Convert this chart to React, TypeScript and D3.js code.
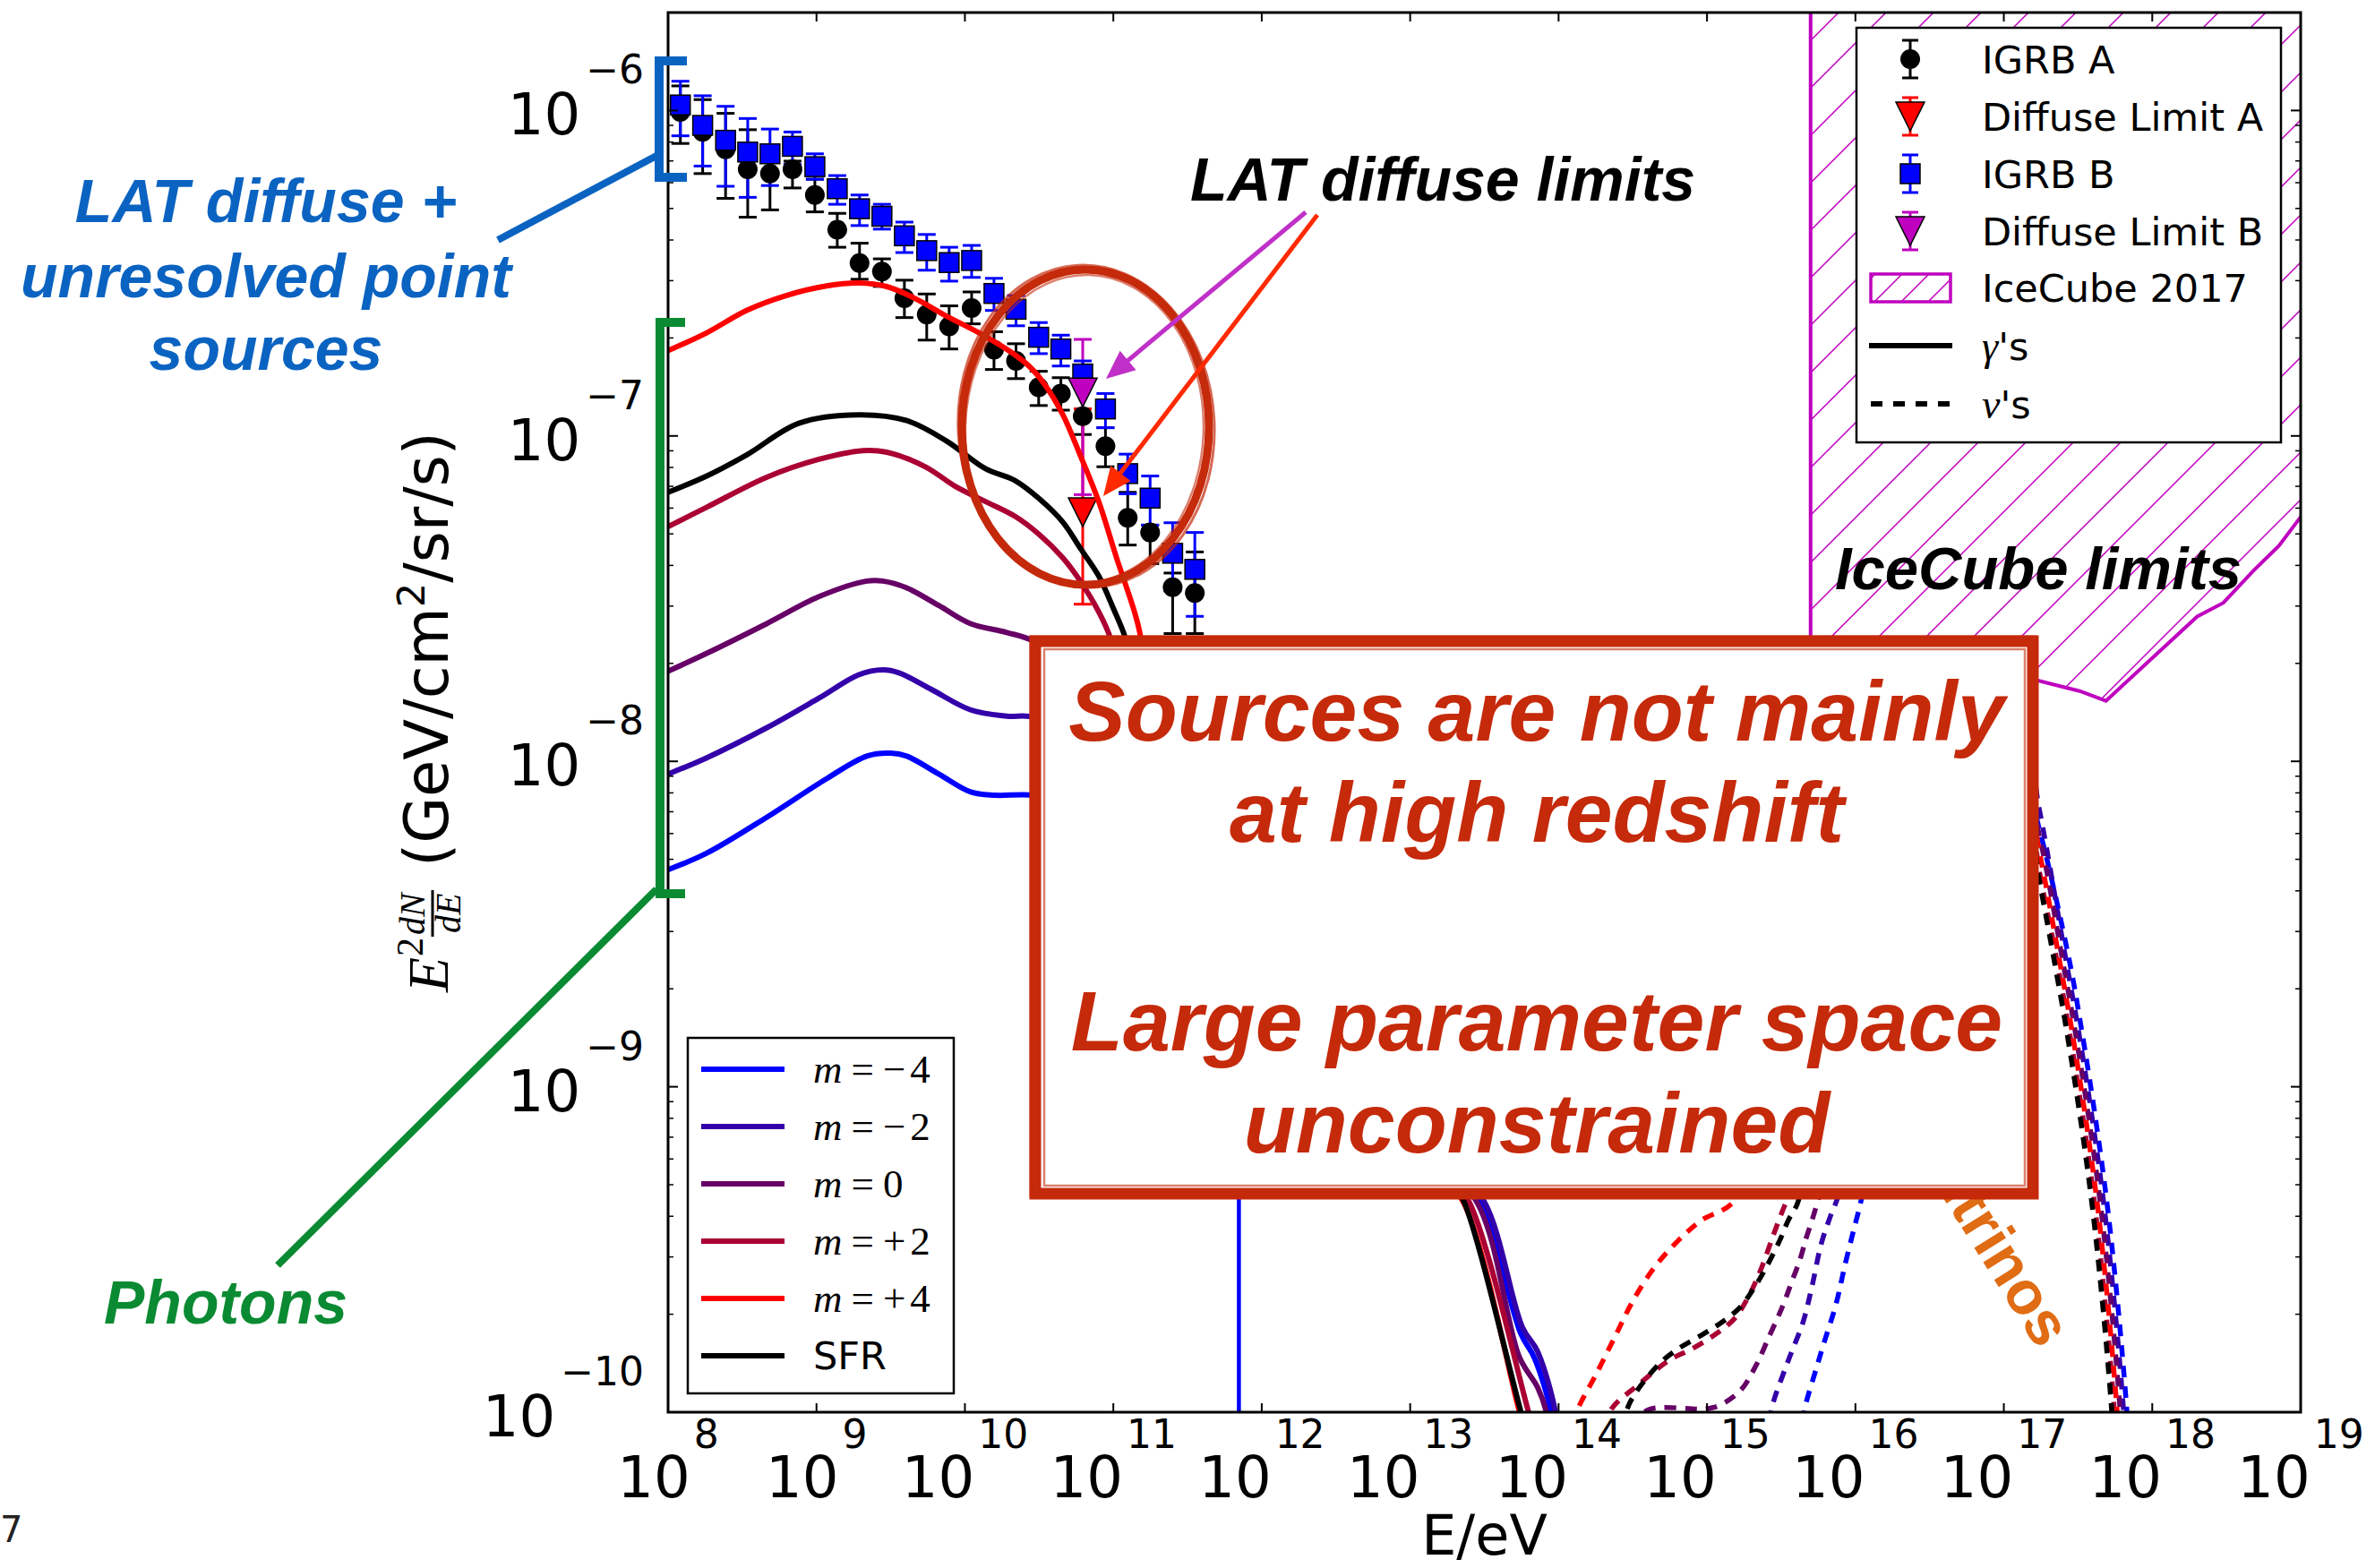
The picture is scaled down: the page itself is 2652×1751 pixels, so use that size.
import React from "react";
import * as d3 from "d3";

const W = 2652, H = 1751;
const PL = 746, PR = 2569, PT = 14, PB = 1577;

// ---------- axis ticks ----------
const xExps = [8, 9, 10, 11, 12, 13, 14, 15, 16, 17, 18, 19];
const yExps = [-6, -7, -8, -9, -10];

// ---------- Fermi-LAT data ----------
const energies = [1.21e8, 1.71e8, 2.44e8, 3.44e8, 4.86e8, 6.89e8, 9.75e8, 1.38e9, 1.95e9, 2.76e9, 3.91e9, 5.53e9, 7.83e9, 1.11e10, 1.57e10, 2.21e10, 3.14e10, 4.43e10, 6.22e10, 8.85e10, 1.25e11, 1.77e11, 2.51e11, 3.54e11];
const igrbA = [9.9e-7, 8.6e-7, 7.6e-7, 6.6e-7, 6.4e-7, 6.6e-7, 5.5e-7, 4.3e-7, 3.4e-7, 3.2e-7, 2.65e-7, 2.36e-7, 2.17e-7, 2.47e-7, 1.84e-7, 1.7e-7, 1.41e-7, 1.35e-7, 1.15e-7, 9.3e-8, 5.6e-8, 5.05e-8, 3.43e-8, 3.29e-8];
const igrbAHi = [1.19e-6, 1.08e-6, 9.8e-7, 8.73e-7, 7.08e-7, 6.99e-7, 6.15e-7, 4.83e-7, 3.91e-7, 3.5e-7, 3.01e-7, 2.73e-7, 2.51e-7, 2.77e-7, 2.09e-7, 1.92e-7, 1.58e-7, 1.51e-7, 1.21e-7, 1.06e-7, 6.71e-8, 5.32e-8, 3.79e-8, 4.4e-8];
const igrbALo = [7.92e-7, 6.4e-7, 5.37e-7, 4.7e-7, 4.95e-7, 5.78e-7, 4.88e-7, 3.8e-7, 3.03e-7, 2.88e-7, 2.31e-7, 1.97e-7, 1.85e-7, 2.21e-7, 1.6e-7, 1.5e-7, 1.24e-7, 1.2e-7, 1.01e-7, 8.04e-8, 4.62e-8, 4.05e-8, 2.47e-8, 2.47e-8];
const igrbB = [1.04e-6, 9.0e-7, 8.1e-7, 7.45e-7, 7.36e-7, 7.76e-7, 6.72e-7, 5.75e-7, 4.99e-7, 4.73e-7, 4.12e-7, 3.71e-7, 3.41e-7, 3.46e-7, 2.74e-7, 2.45e-7, 2.01e-7, 1.85e-7, 1.55e-7, 1.21e-7, 7.66e-8, 6.44e-8, 4.36e-8, 3.89e-8];
const igrbBHi = [1.23e-6, 1.11e-6, 1.03e-6, 9.45e-7, 8.77e-7, 8.59e-7, 7.36e-7, 6.31e-7, 5.5e-7, 5.15e-7, 4.54e-7, 4.16e-7, 3.8e-7, 3.85e-7, 3.05e-7, 2.7e-7, 2.23e-7, 2.04e-7, 1.7e-7, 1.35e-7, 8.79e-8, 7.53e-8, 5.41e-8, 5.05e-8];
const igrbBLo = [8.36e-7, 6.75e-7, 5.85e-7, 5.41e-7, 5.88e-7, 6.84e-7, 6.15e-7, 5.15e-7, 4.43e-7, 4.32e-7, 3.66e-7, 3.23e-7, 2.99e-7, 3.07e-7, 2.43e-7, 2.18e-7, 1.79e-7, 1.64e-7, 1.39e-7, 1.06e-7, 6.64e-8, 5.32e-8, 3.34e-8, 2.79e-8];
const limitE = [6.22e10];
const limitA = [5.83e-8];
const limitAHi = [1.21e-7];
const limitALo = [3.04e-8];
const limitB = [1.36e-7];
const limitBHi = [1.98e-7];
const limitBLo = [6.6e-8];

// ---------- model curves: [log10 E/eV, log10 flux] ----------
const gamM4: [number, number][] = [[8.0, -8.333], [8.261, -8.282], [8.664, -8.172], [9.069, -8.053], [9.339, -7.984], [9.5, -7.975], [9.608, -7.984], [9.824, -8.039], [10.039, -8.094], [10.201, -8.104], [10.471, -8.104], [11.0, -8.15], [11.6, -8.4], [12.4, -8.8], [13.0, -9.1], [13.3, -9.25], [13.466, -9.337], [13.745, -9.758], [13.836, -9.832], [13.949, -10.0], [13.97, -10.1]];
const gamM4Dropout: [number, number][] = [[11.846, -8.6], [11.846, -10.5]];
const gamM2: [number, number][] = [[8.0, -8.039], [8.261, -7.989], [8.664, -7.897], [9.016, -7.806], [9.285, -7.734], [9.447, -7.719], [9.555, -7.728], [9.77, -7.778], [10.039, -7.842], [10.282, -7.861], [10.471, -7.865], [11.0, -8.0], [11.8, -8.5], [12.6, -9.0], [13.2, -9.25], [13.476, -9.337], [13.757, -9.74], [13.858, -9.813], [13.979, -10.0], [14.0, -10.1]];
const gamM0: [number, number][] = [[8.0, -7.723], [8.261, -7.668], [8.664, -7.577], [9.016, -7.494], [9.339, -7.446], [9.447, -7.446], [9.608, -7.467], [9.824, -7.521], [10.039, -7.577], [10.282, -7.604], [10.471, -7.632], [10.8, -7.75], [11.5, -8.3], [12.3, -8.9], [13.0, -9.2], [13.425, -9.337], [13.737, -9.832], [13.858, -9.923], [13.918, -10.0], [13.95, -10.1]];
const gamP2: [number, number][] = [[8.0, -7.279], [8.261, -7.219], [8.664, -7.127], [9.016, -7.072], [9.312, -7.045], [9.474, -7.05], [9.734, -7.095], [9.935, -7.155], [10.136, -7.201], [10.337, -7.247], [10.498, -7.302], [10.66, -7.375], [10.78, -7.448], [10.901, -7.54], [10.981, -7.622], [11.1, -7.85], [11.6, -8.35], [12.2, -8.85], [12.9, -9.15], [13.3, -9.32], [13.375, -9.337], [13.798, -10.0], [13.86, -10.1]];
const gamP4: [number, number][] = [[8.0, -6.738], [8.261, -6.683], [8.531, -6.614], [8.8, -6.568], [9.069, -6.539], [9.285, -6.53], [9.474, -6.541], [9.662, -6.577], [9.877, -6.632], [10.094, -6.683], [10.309, -6.742], [10.438, -6.788], [10.539, -6.843], [10.66, -6.935], [10.78, -7.063], [10.901, -7.201], [11.022, -7.375], [11.142, -7.54], [11.182, -7.613], [11.25, -7.85], [11.5, -8.6], [12.0, -9.0], [12.8, -9.2], [13.2, -9.3], [13.335, -9.337], [13.737, -10.0], [13.8, -10.1]];
const gamSFR: [number, number][] = [[8.0, -7.173], [8.261, -7.123], [8.531, -7.058], [8.881, -6.961], [9.285, -6.935], [9.608, -6.953], [9.877, -7.016], [10.136, -7.1], [10.337, -7.137], [10.498, -7.192], [10.66, -7.265], [10.78, -7.347], [10.901, -7.43], [11.001, -7.531], [11.082, -7.622], [11.2, -7.85], [11.6, -8.3], [12.2, -8.8], [12.9, -9.15], [13.3, -9.32], [13.345, -9.337], [13.747, -10.0], [13.81, -10.1]];

const nuM4: [number, number][] = [[15.64, -10.03], [15.669, -9.969], [15.729, -9.877], [15.789, -9.786], [15.87, -9.667], [15.93, -9.547], [15.99, -9.437], [16.031, -9.364], [16.3, -8.8], [16.8, -8.2], [17.1, -8.0], [17.24, -8.21], [17.44, -8.609], [17.521, -8.817], [17.621, -9.108], [17.702, -9.384], [17.772, -9.69], [17.823, -9.96], [17.837, -10.05]];
const nuM2: [number, number][] = [[15.417, -10.03], [15.447, -9.969], [15.548, -9.841], [15.648, -9.722], [15.708, -9.612], [15.769, -9.484], [15.829, -9.401], [15.88, -9.341], [16.1, -8.9], [16.6, -8.3], [17.0, -7.95], [17.15, -7.97], [17.24, -8.15], [17.418, -8.609], [17.499, -8.817], [17.599, -9.108], [17.68, -9.384], [17.75, -9.69], [17.801, -9.96], [17.815, -10.05]];
const nuM0: [number, number][] = [[14.5, -10.05], [14.602, -9.993], [14.985, -9.99], [15.085, -9.979], [15.226, -9.933], [15.326, -9.86], [15.427, -9.759], [15.508, -9.676], [15.568, -9.603], [15.628, -9.529], [15.668, -9.465], [15.708, -9.41], [15.749, -9.346], [16.0, -8.9], [16.5, -8.4], [16.9, -8.1], [17.1, -8.0], [17.24, -8.23], [17.395, -8.609], [17.476, -8.817], [17.576, -9.108], [17.657, -9.384], [17.727, -9.69], [17.778, -9.96], [17.792, -10.05]];
const nuP2: [number, number][] = [[14.3, -10.05], [14.361, -9.987], [14.542, -9.914], [14.743, -9.841], [14.904, -9.804], [15.065, -9.758], [15.186, -9.712], [15.286, -9.639], [15.367, -9.557], [15.447, -9.456], [15.508, -9.382], [15.548, -9.337], [15.8, -8.95], [16.3, -8.45], [16.8, -8.1], [17.1, -8.0], [17.24, -8.34], [17.356, -8.609], [17.437, -8.817], [17.537, -9.108], [17.618, -9.384], [17.688, -9.69], [17.739, -9.96], [17.753, -10.05]];
const nuP4: [number, number][] = [[14.05, -10.1], [14.12, -10.0], [14.26, -9.877], [14.381, -9.767], [14.502, -9.657], [14.643, -9.557], [14.803, -9.474], [14.964, -9.41], [15.165, -9.36], [15.4, -9.2], [16.0, -8.6], [16.6, -8.1], [17.1, -8.0], [17.24, -8.28], [17.374, -8.609], [17.455, -8.817], [17.555, -9.108], [17.636, -9.384], [17.706, -9.69], [17.757, -9.96], [17.771, -10.05]];
const nuSFR: [number, number][] = [[14.42, -10.05], [14.482, -9.969], [14.583, -9.901], [14.703, -9.841], [14.824, -9.8], [14.964, -9.763], [15.105, -9.722], [15.226, -9.676], [15.326, -9.612], [15.407, -9.548], [15.488, -9.474], [15.548, -9.41], [15.608, -9.36], [15.8, -9.0], [16.3, -8.5], [16.8, -8.15], [17.1, -8.05], [17.24, -8.37], [17.338, -8.609], [17.419, -8.817], [17.519, -9.108], [17.6, -9.384], [17.67, -9.69], [17.721, -9.96], [17.735, -10.05]];

const iceCube: [number, number][] = [[15.698, -5.5], [15.698, -7.9], [16.0, -8.1], [16.6, -8.0], [17.0, -7.85], [17.224, -7.751], [17.511, -7.784], [17.688, -7.814], [18.303, -7.555], [18.479, -7.513], [18.68, -7.415], [18.855, -7.337], [19.005, -7.246], [19.1, -7.2]];

const seriesSign = ["\u2212", "\u2212", "", "+", "+"];
const seriesNum = ["4", "2", "0", "2", "4"];
const seriesColors = ["#0000ff", "#3300aa", "#660066", "#aa0033", "#ff0000", "#000000"];
const gammaSeries = [gamM4, gamM2, gamM0, gamP2, gamP4, gamSFR];
const nuSeries = [nuM4, nuM2, nuM0, nuP2, nuP4, nuSFR];

const SANS = "'DejaVu Sans', sans-serif";
const SERIF = "'Liberation Serif', 'DejaVu Serif', serif";
const BOLD = "'Liberation Sans', Arial, sans-serif";
const BOXRED = "#c52a0b";

function arrowHead(x1: number, y1: number, x2: number, y2: number, len: number, half: number) {
  const dx = x2 - x1, dy = y2 - y1;
  const L = Math.hypot(dx, dy);
  const ux = dx / L, uy = dy / L;
  const bx = x2 - ux * len, by = y2 - uy * len;
  return `M${x2},${y2} L${bx - uy * half},${by + ux * half} L${bx + uy * half},${by - ux * half} Z`;
}

export default function App() {
  const x = d3.scaleLog().domain([1e8, 1e19]).range([PL, PR]);
  const y = d3.scaleLog().domain([1e-10, 2e-6]).range([PB, PT]);
  const smooth = d3.line<[number, number]>().x((d) => x(Math.pow(10, d[0]))).y((d) => y(Math.pow(10, d[1]))).curve(d3.curveCatmullRom.alpha(0.5));
  const straight = d3.line<[number, number]>().x((d) => x(Math.pow(10, d[0]))).y((d) => y(Math.pow(10, d[1])));

  const icePoly = straight([...iceCube, [19.1, -5.5]] as [number, number][]) + "Z";

  const minorY: number[] = [];
  for (let d = -10; d <= -7; d++) for (let k = 2; k <= 9; k++) minorY.push(k * Math.pow(10, d));

  const errBar = (E: number, lo: number, hi: number, color: string, key: string) => {
    const cx = x(E);
    return (
      <g key={key} stroke={color} strokeWidth={3}>
        <line x1={cx} x2={cx} y1={y(lo)} y2={y(hi)} />
        <line x1={cx - 10} x2={cx + 10} y1={y(lo)} y2={y(lo)} />
        <line x1={cx - 10} x2={cx + 10} y1={y(hi)} y2={y(hi)} />
      </g>
    );
  };
  const tri = (cx: number, cy: number, color: string) => (
    <path d={`M${cx - 16},${cy - 16} L${cx + 16},${cy - 16} L${cx},${cy + 16} Z`} fill={color} stroke="#000" strokeWidth={1.5} />
  );

  const legendTR = ["IGRB A", "Diffuse Limit A", "IGRB B", "Diffuse Limit B", "IceCube 2017"];
  const trY = [66, 130, 194, 258, 321, 386, 451];
  const mx = 2133;

  const magArrow = { x1: 1458, y1: 237, x2: 1235, y2: 423 };
  const redArrow = { x1: 1471, y1: 240, x2: 1232, y2: 554 };

  return (
    <svg width={W} height={H} viewBox={`0 0 ${W} ${H}`} style={{ position: "absolute", left: 0, top: 0, background: "#fff" }}>
      <defs>
        <clipPath id="plotClip">
          <rect x={PL} y={PT} width={PR - PL} height={PB - PT} />
        </clipPath>
        <pattern id="hatch" patternUnits="userSpaceOnUse" width={53} height={53}>
          <path d="M0,53 L53,0 M-13,13 L13,-13 M40,66 L66,40" stroke="#bf00bf" strokeWidth={1.5} />
        </pattern>
        <pattern id="hatchS" patternUnits="userSpaceOnUse" width={30} height={30}>
          <path d="M0,30 L30,0 M-8,8 L8,-8 M22,38 L38,22" stroke="#bf00bf" strokeWidth={1.5} />
        </pattern>
      </defs>
      <rect x={0} y={0} width={W} height={H} fill="#fff" />

      <g clipPath="url(#plotClip)">
        {/* IceCube 2017 limit region */}
        <path d={icePoly} fill="url(#hatch)" stroke="none" />
        <path d={straight(iceCube) || ""} fill="none" stroke="#bf00bf" strokeWidth={4} />

        {/* data: error bars */}
        {energies.map((E, i) => errBar(E, igrbALo[i], igrbAHi[i], "#000", "ea" + i))}
        {limitE.map((E, i) => errBar(E, limitALo[i], limitAHi[i], "#ff0000", "la" + i))}
        {limitE.map((E, i) => errBar(E, limitBLo[i], limitBHi[i], "#bf00bf", "lb" + i))}
        {energies.map((E, i) => errBar(E, igrbBLo[i], igrbBHi[i], "#0000ff", "eb" + i))}
        {/* markers */}
        {energies.map((E, i) => (
          <circle key={"ca" + i} cx={x(E)} cy={y(igrbA[i])} r={11} fill="#000" />
        ))}
        {energies.map((E, i) => (
          <rect key={"sb" + i} x={x(E) - 11} y={y(igrbB[i]) - 11} width={22} height={22} fill="#0000ff" stroke="#000" strokeWidth={1.5} />
        ))}
        {limitE.map((E, i) => <g key={"ta" + i}>{tri(x(E), y(limitA[i]), "#ff0000")}</g>)}
        {limitE.map((E, i) => <g key={"tb" + i}>{tri(x(E), y(limitB[i]), "#bf00bf")}</g>)}

        {/* photon curves */}
        <path d={straight(gamM4Dropout) || ""} fill="none" stroke="#0000ff" strokeWidth={4.5} />
        {gammaSeries.map((s, i) => (
          <path key={"g" + i} d={smooth(s) || ""} fill="none" stroke={seriesColors[i]} strokeWidth={6} strokeLinejoin="round" />
        ))}
        {/* neutrino curves */}
        {nuSeries.map((s, i) => (
          <path key={"n" + i} d={smooth(s) || ""} fill="none" stroke={seriesColors[i]} strokeWidth={5.5} strokeDasharray="13 10" />
        ))}
      </g>

      {/* axes frame */}
      <rect x={PL} y={PT} width={PR - PL} height={PB - PT} fill="none" stroke="#000" strokeWidth={3} />
      {xExps.map((e) => {
        const X = x(Math.pow(10, e));
        return (
          <g key={"xt" + e} stroke="#000" strokeWidth={2}>
            <line x1={X} x2={X} y1={PB} y2={PB - 10} />
            <line x1={X} x2={X} y1={PT} y2={PT + 10} />
          </g>
        );
      })}
      {yExps.map((e) => {
        const Y = y(Math.pow(10, e));
        return (
          <g key={"yt" + e} stroke="#000" strokeWidth={2}>
            <line x1={PL} x2={PL + 11} y1={Y} y2={Y} />
            <line x1={PR} x2={PR - 11} y1={Y} y2={Y} />
          </g>
        );
      })}
      {minorY.map((v, i) => {
        const Y = y(v);
        return (
          <g key={"ym" + i} stroke="#000" strokeWidth={1.5}>
            <line x1={PL} x2={PL + 6} y1={Y} y2={Y} />
            <line x1={PR} x2={PR - 6} y1={Y} y2={Y} />
          </g>
        );
      })}

      {/* tick labels */}
      {xExps.map((e) => (
        <text key={"xl" + e} x={x(Math.pow(10, e))} y={1672} textAnchor="middle" fontFamily={SANS} fill="#000">
          <tspan fontSize={64}>10</tspan>
          <tspan fontSize={44} dx={4} dy={-55}>{e}</tspan>
        </text>
      ))}
      {yExps.map((e) => (
        <text key={"yl" + e} x={719} y={y(Math.pow(10, e)) + 27} textAnchor="end" fontFamily={SANS} fill="#000">
          <tspan fontSize={64}>10</tspan>
          <tspan fontSize={44} dx={6} dy={-57}>{"\u2212" + Math.abs(e)}</tspan>
        </text>
      ))}

      {/* axis labels */}
      <text x={(PL + PR) / 2} y={1736} textAnchor="middle" fontFamily={SANS} fontSize={62} fill="#000">E/eV</text>
      <g transform="translate(500,1108) rotate(-90)" fill="#000">
        <text x={0} y={0} fontFamily={SERIF} fontStyle="italic" fontSize={64}>E</text>
        <text x={40} y={-28} fontFamily={SERIF} fontSize={42}>2</text>
        <text x={64} y={-26} fontFamily={SERIF} fontStyle="italic" fontSize={40}>dN</text>
        <line x1={62} x2={114} y1={-17} y2={-17} stroke="#000" strokeWidth={3} />
        <text x={66} y={14} fontFamily={SERIF} fontStyle="italic" fontSize={40}>dE</text>
        <text x={140} y={0} fontFamily={SANS} fontSize={67}>
          (GeV/cm<tspan fontSize={43} dy={-26}>2</tspan><tspan dy={26}>/sr/s)</tspan>
        </text>
      </g>

      {/* top-right legend */}
      <rect x={2073} y={31} width={474} height={463} fill="#fff" stroke="#000" strokeWidth={2.5} />
      <g>
        <g stroke="#000" strokeWidth={3}>
          <line x1={mx} x2={mx} y1={trY[0] - 21} y2={trY[0] + 21} />
          <line x1={mx - 9} x2={mx + 9} y1={trY[0] - 21} y2={trY[0] - 21} />
          <line x1={mx - 9} x2={mx + 9} y1={trY[0] + 21} y2={trY[0] + 21} />
        </g>
        <circle cx={mx} cy={trY[0]} r={11} fill="#000" />
        <g stroke="#ff0000" strokeWidth={3}>
          <line x1={mx} x2={mx} y1={trY[1] - 21} y2={trY[1] + 21} />
          <line x1={mx - 9} x2={mx + 9} y1={trY[1] - 21} y2={trY[1] - 21} />
          <line x1={mx - 9} x2={mx + 9} y1={trY[1] + 21} y2={trY[1] + 21} />
        </g>
        {tri(mx, trY[1], "#ff0000")}
        <g stroke="#0000ff" strokeWidth={3}>
          <line x1={mx} x2={mx} y1={trY[2] - 21} y2={trY[2] + 21} />
          <line x1={mx - 9} x2={mx + 9} y1={trY[2] - 21} y2={trY[2] - 21} />
          <line x1={mx - 9} x2={mx + 9} y1={trY[2] + 21} y2={trY[2] + 21} />
        </g>
        <rect x={mx - 11} y={trY[2] - 11} width={22} height={22} fill="#0000ff" stroke="#000" strokeWidth={1.5} />
        <g stroke="#bf00bf" strokeWidth={3}>
          <line x1={mx} x2={mx} y1={trY[3] - 21} y2={trY[3] + 21} />
          <line x1={mx - 9} x2={mx + 9} y1={trY[3] - 21} y2={trY[3] - 21} />
          <line x1={mx - 9} x2={mx + 9} y1={trY[3] + 21} y2={trY[3] + 21} />
        </g>
        {tri(mx, trY[3], "#bf00bf")}
        <rect x={2089} y={trY[4] - 15} width={89} height={31} fill="url(#hatchS)" stroke="#bf00bf" strokeWidth={3.5} />
        <line x1={2087} x2={2180} y1={trY[5]} y2={trY[5]} stroke="#000" strokeWidth={6} />
        <line x1={2089} x2={2180} y1={trY[6]} y2={trY[6]} stroke="#000" strokeWidth={6} strokeDasharray="13 12" />
        {legendTR.map((t, i) => (
          <text key={"lt" + i} x={2213} y={trY[i] + 16} fontFamily={SANS} fontSize={43} fill="#000">{t}</text>
        ))}
        <text x={2213} y={trY[5] + 16} fontSize={43} fill="#000">
          <tspan fontFamily={SERIF} fontStyle="italic" fontSize={46}>{"\u03b3"}</tspan>
          <tspan fontFamily={SANS}>'s</tspan>
        </text>
        <text x={2213} y={trY[6] + 16} fontSize={43} fill="#000">
          <tspan fontFamily={SERIF} fontStyle="italic" fontSize={46}>{"\u03bd"}</tspan>
          <tspan fontFamily={SANS}>'s</tspan>
        </text>
      </g>

      {/* bottom-left legend */}
      <rect x={768} y={1159} width={297} height={397} fill="#fff" stroke="#000" strokeWidth={2.5} />
      {seriesColors.map((c, i) => {
        const yy = 1194 + i * 64;
        return (
          <g key={"lm" + i}>
            <line x1={783} x2={876} y1={yy} y2={yy} stroke={c} strokeWidth={6} />
            {i < 5 ? (
              <text x={908} y={yy + 15} fontFamily={SERIF} fontSize={45} fill="#000">
                <tspan fontStyle="italic">m</tspan>
                <tspan dx={10}>=</tspan>
                {seriesSign[i] ? <tspan dx={10}>{seriesSign[i]}</tspan> : null}
                <tspan dx={seriesSign[i] ? 5 : 10}>{seriesNum[i]}</tspan>
              </text>
            ) : (
              <text x={908} y={yy + 15} fontFamily={SANS} fontSize={43} fill="#000">SFR</text>
            )}
          </g>
        );
      })}

      {/* Neutrinos label (partly hidden by the box) */}
      <text transform="translate(2276,1508) rotate(58)" textAnchor="end" fontFamily={BOLD} fontWeight="bold" fontSize={68} fill="#e06c14">Neutrinos</text>

      {/* big annotation box */}
      <rect x={1156} y={716} width={1114} height={617} fill="#fff" stroke={BOXRED} strokeWidth={13} />
      <rect x={1151} y={711} width={1122} height={625} fill="none" stroke={BOXRED} strokeWidth={3} opacity={0.75} />
      <rect x={1166} y={725} width={1095} height={599} fill="none" stroke={BOXRED} strokeWidth={2.5} opacity={0.6} />
      <g fontFamily={BOLD} fontWeight="bold" fontStyle="italic" fontSize={95} fill={BOXRED} textAnchor="middle">
        <text x={1716} y={827}>Sources are not mainly</text>
        <text x={1716} y={940}>at high redshift</text>
        <text x={1716} y={1173}>Large parameter space</text>
        <text x={1716} y={1287}>unconstrained</text>
      </g>

      {/* hand-drawn circle around LAT limits */}
      <ellipse cx={1212} cy={477} rx={138} ry={176} fill="none" stroke={BOXRED} strokeWidth={9} />
      <ellipse cx={1213} cy={476} rx={143} ry={180} fill="none" stroke={BOXRED} strokeWidth={3} opacity={0.7} transform="rotate(-3 1212 477)" />
      <ellipse cx={1211} cy={479} rx={133} ry={172} fill="none" stroke={BOXRED} strokeWidth={2.5} opacity={0.6} transform="rotate(2 1212 477)" />

      {/* arrows */}
      <line x1={magArrow.x1} y1={magArrow.y1} x2={magArrow.x2 + 18} y2={magArrow.y2 - 15} stroke="#c030c8" strokeWidth={5} />
      <path d={arrowHead(magArrow.x1, magArrow.y1, magArrow.x2, magArrow.y2, 32, 14)} fill="#c030c8" />
      <line x1={redArrow.x1} y1={redArrow.y1} x2={redArrow.x2 + 14} y2={redArrow.y2 - 19} stroke="#ff2a00" strokeWidth={5} />
      <path d={arrowHead(redArrow.x1, redArrow.y1, redArrow.x2, redArrow.y2, 32, 14)} fill="#ff2a00" />

      <g fontFamily={BOLD} fontWeight="bold" fontStyle="italic" fill="#000">
        <text x={1611} y={224} fontSize={68} textAnchor="middle">LAT diffuse limits</text>
        <text x={2276} y={658} fontSize={67} textAnchor="middle">IceCube limits</text>
      </g>

      {/* left brackets and labels */}
      <path d="M767,68 L736,68 L736,198 L767,198" fill="none" stroke="#0b63c1" strokeWidth={10} />
      <line x1={733} y1={174} x2={556} y2={268} stroke="#0b63c1" strokeWidth={8} />
      <path d="M765,360 L737,360 L737,998 L765,998" fill="none" stroke="#0a8a32" strokeWidth={10} />
      <line x1={733} y1={993} x2={310} y2={1413} stroke="#0a8a32" strokeWidth={8} />
      <g fontFamily={BOLD} fontWeight="bold" fontStyle="italic" fontSize={68} textAnchor="middle">
        <text x={297} y={248} fill="#0b63c1">LAT diffuse +</text>
        <text x={297} y={332} fill="#0b63c1">unresolved point</text>
        <text x={297} y={413} fill="#0b63c1">sources</text>
        <text x={252} y={1478} fill="#0a8a32">Photons</text>
      </g>

      <text x={0} y={1722} fontFamily={SANS} fontSize={40} fill="#222">7</text>
    </svg>
  );
}
